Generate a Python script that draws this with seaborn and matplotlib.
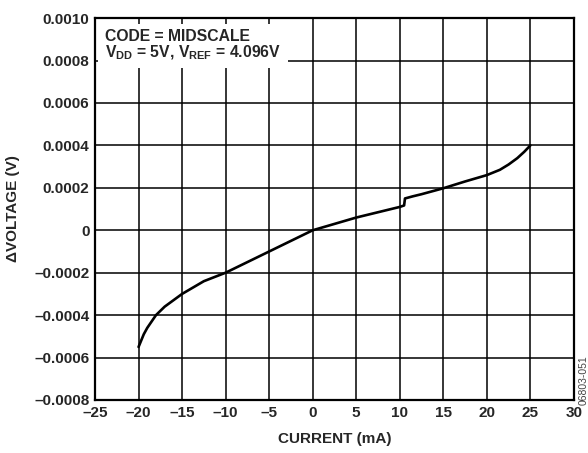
import numpy as np
import pandas as pd
import matplotlib
matplotlib.use("Agg")
import matplotlib.pyplot as plt
from matplotlib.ticker import FuncFormatter
import seaborn as sns

# current (mA) vs delta voltage (V)
current_ma = [-20.0, -19.7, -19.4, -19.0, -18.5, -18.0, -17.0, -16.0, -15.0, -13.75,
              -12.5, -11.25, -10.0, -7.5, -5.0, -2.5, 0.0, 2.5, 5.0, 7.5,
              10.0, 10.5, 10.6, 11.5, 12.5, 15.0, 17.5, 20.0, 21.5, 22.5,
              23.5, 24.3, 25.0]
delta_v = [-0.00055, -0.00052, -0.00049, -0.00046, -0.00043, -0.00040, -0.00036, -0.00033, -0.00030, -0.00027,
           -0.00024, -0.00022, -0.00020, -0.00015, -0.00010, -0.00005, 0.0, 0.00003, 0.00006, 0.000085,
           0.00011, 0.000117, 0.00015, 0.00016, 0.00017, 0.000198, 0.00023, 0.00026, 0.000285, 0.00031,
           0.00034, 0.00037, 0.00040]

x_ticks = [-25, -20, -15, -10, -5, 0, 5, 10, 15, 20, 25, 30]
y_ticks = [-0.0008, -0.0006, -0.0004, -0.0002, 0, 0.0002, 0.0004, 0.0006, 0.0008, 0.0010]

df = pd.DataFrame({"current": current_ma, "dv": delta_v})

sns.set_style("white")
plt.rcParams['font.family'] = ['Liberation Sans', 'DejaVu Sans']
plt.rcParams['font.weight'] = 'bold'
plt.rcParams['mathtext.fontset'] = 'custom'
plt.rcParams['mathtext.rm'] = 'Liberation Sans:bold'
plt.rcParams['mathtext.bf'] = 'Liberation Sans:bold'
plt.rcParams['mathtext.it'] = 'Liberation Sans:bold'

fig = plt.figure(figsize=(5.88, 4.53), dpi=100)
ax = fig.add_axes([0.1616, 0.117, 0.8144, 0.843])

ax.set_xlim(-25, 30)
ax.set_ylim(-0.0008, 0.0010)
ax.set_xticks(x_ticks)
ax.set_yticks(y_ticks)
ax.grid(True, color="black", linewidth=1.1)
ax.set_axisbelow(True)
for s in ax.spines.values():
    s.set_color("black")
    s.set_linewidth(1.6)
ax.tick_params(length=0, labelsize=11, pad=4)
ax.yaxis.set_major_formatter(FuncFormatter(lambda v, p: "0" if abs(v) < 1e-9 else f"{v:.4f}".replace("-", "\u2013")))
ax.xaxis.set_major_formatter(FuncFormatter(lambda v, p: f"{v:.0f}".replace("-", "\u2013")))
for lbl in ax.get_xticklabels() + ax.get_yticklabels():
    lbl.set_fontweight("bold")

sns.lineplot(data=df, x="current", y="dv", ax=ax, color="black", linewidth=1.9, zorder=3)

ax.set_xlabel("CURRENT (mA)", fontsize=11, fontweight="bold", labelpad=9)
ax.set_ylabel("\u0394VOLTAGE (V)", fontsize=11, fontweight="bold", labelpad=10)

ax.text(0.021, 0.972, "CODE = MIDSCALE\n$\\mathbf{V_{DD}}$ = 5V, $\\mathbf{V_{REF}}$ = 4.096V",
        transform=ax.transAxes, ha="left", va="top", fontsize=11.3, fontweight="bold",
        linespacing=0.95,
        bbox=dict(facecolor="white", edgecolor="none", pad=5), zorder=4)

fig.text(0.993, 0.106, "06803-051", rotation=90, fontsize=7.5, fontweight="normal",
         color="#444444", ha="center", va="bottom")

plt.savefig("out.png", dpi=100)
